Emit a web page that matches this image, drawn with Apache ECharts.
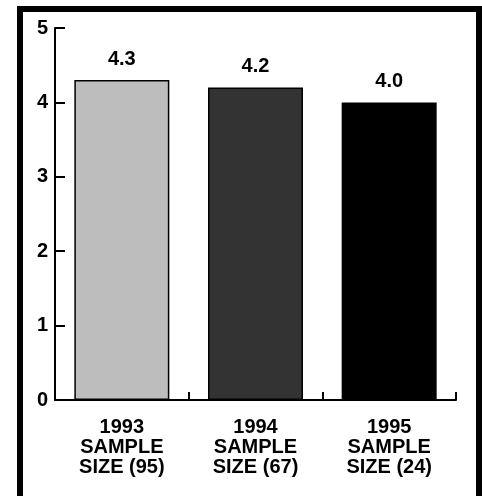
<!DOCTYPE html>
<html>
<head>
<meta charset="utf-8">
<script src="https://cdn.jsdelivr.net/npm/echarts@6/dist/echarts.min.js"></script>
<style>html,body{margin:0;padding:0;background:#fff;}#c{width:482px;height:496px;}</style>
</head>
<body>
<div id="c"></div>
<script>
var categories = ['1993\nSAMPLE\nSIZE (95)', '1994\nSAMPLE\nSIZE (67)', '1995\nSAMPLE\nSIZE (24)'];
var values = [4.3, 4.2, 4.0];
var barColors = ['#bdbdbd', '#333333', '#000000'];
var yTicks = [0, 1, 2, 3, 4, 5];

var chart = echarts.init(document.getElementById('c'));
var font = 'Liberation Sans, Arial, Helvetica, sans-serif';
chart.setOption({
  animation: false,
  backgroundColor: '#ffffff',
  graphic: [
    {type: 'rect', shape: {x: 17, y: 6, width: 6, height: 490}, style: {fill: '#000'}},
    {type: 'rect', shape: {x: 17, y: 6, width: 465, height: 6}, style: {fill: '#000'}},
    {type: 'rect', shape: {x: 476, y: 6, width: 6, height: 490}, style: {fill: '#000'}}
  ],
  grid: {left: 55, right: 26, top: 28, bottom: 96, containLabel: false},
  xAxis: {
    type: 'category',
    data: categories,
    axisLine: {lineStyle: {color: '#000', width: 2}},
    axisTick: {show: true, inside: true, length: 8, lineStyle: {color: '#000', width: 2}},
    axisLabel: {color: '#000', fontFamily: font, fontWeight: 'bold', fontSize: 20, lineHeight: 20, margin: 17}
  },
  yAxis: {
    type: 'value',
    min: 0, max: 5, interval: 1,
    splitLine: {show: false},
    axisLine: {show: true, lineStyle: {color: '#000', width: 2}},
    axisTick: {show: true, inside: true, length: 10, lineStyle: {color: '#000', width: 2}},
    axisLabel: {color: '#000', fontFamily: font, fontWeight: 'bold', fontSize: 20, margin: 7,
      formatter: function (v) { return yTicks.indexOf(v) >= 0 ? String(v) : ''; }}
  },
  series: [{
    type: 'bar',
    barWidth: 95,
    data: values.map(function (v, i) {
      return {value: v, itemStyle: {color: barColors[i], borderColor: '#000', borderWidth: 1.5}};
    }),
    label: {show: true, position: 'top', distance: 11, color: '#000', fontFamily: font,
      fontWeight: 'bold', fontSize: 20,
      formatter: function (p) { return p.value.toFixed(1); }}
  }]
});
</script>
</body>
</html>
